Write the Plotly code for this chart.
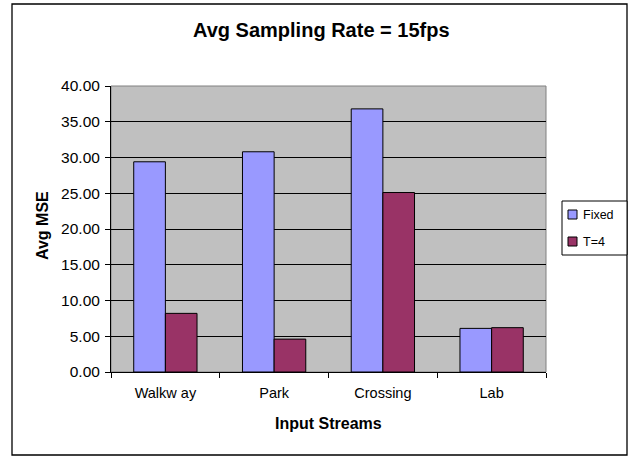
import plotly.graph_objects as go

categories = ["Walkw ay", "Park", "Crossing", "Lab"]
fixed_vals = [29.4, 30.8, 36.8, 6.1]
t4_vals = [8.2, 4.6, 25.1, 6.2]
series_names = ["Fixed", "T=4"]
y_ticks = [0, 5, 10, 15, 20, 25, 30, 35, 40]

W, H = 632, 457
L, R, T, B = 111, 546, 86, 372
PW, PH = R - L, B - T

def px(x):
    return (x - L) / PW

def py(y):
    return (B - y) / PH

FONT = "Arial, Liberation Sans, sans-serif"
C_FIXED = "#9999FF"
C_T4 = "#993366"

fig = go.Figure()
fig.add_trace(go.Bar(x=categories, y=fixed_vals, name=series_names[0],
                     marker=dict(color=C_FIXED, line=dict(color="black", width=1))))
fig.add_trace(go.Bar(x=categories, y=t4_vals, name=series_names[1],
                     marker=dict(color=C_T4, line=dict(color="black", width=1))))

shapes = [
    # plot area border (gray)
    dict(type="rect", xref="paper", yref="paper", x0=0, x1=1, y0=0, y1=1,
         line=dict(color="#808080", width=1), layer="below"),
    # outer chart border
    dict(type="rect", xref="paper", yref="paper", x0=px(12), x1=px(627),
         y0=py(455), y1=py(4), line=dict(color="black", width=1.3)),
    # legend box
    dict(type="rect", xref="paper", yref="paper", x0=px(562), x1=px(627),
         y0=py(255), y1=py(201), fillcolor="white", line=dict(color="black", width=1)),
    dict(type="rect", xref="paper", yref="paper", x0=px(568), x1=px(577),
         y0=py(219), y1=py(210), fillcolor=C_FIXED, line=dict(color="black", width=1)),
    dict(type="rect", xref="paper", yref="paper", x0=px(568), x1=px(577),
         y0=py(246), y1=py(237), fillcolor=C_T4, line=dict(color="black", width=1)),
]

annotations = [
    dict(text=series_names[0], xref="paper", yref="paper", x=px(581), y=py(214.5),
         xanchor="left", yanchor="middle", showarrow=False,
         font=dict(family=FONT, size=12.5, color="black")),
    dict(text=series_names[1], xref="paper", yref="paper", x=px(581), y=py(241.5),
         xanchor="left", yanchor="middle", showarrow=False,
         font=dict(family=FONT, size=12.5, color="black")),
    dict(text="<b>Avg MSE</b>", xref="paper", yref="paper", x=px(42), y=py(226),
         xanchor="center", yanchor="middle", textangle=-90, showarrow=False,
         font=dict(family=FONT, size=16, color="black")),
    dict(text="<b>Input Streams</b>", xref="paper", yref="paper", x=px(328), y=py(423),
         xanchor="center", yanchor="middle", showarrow=False,
         font=dict(family=FONT, size=16, color="black")),
    dict(text="<b>Avg Sampling Rate = 15fps</b>", xref="paper", yref="paper",
         x=px(321.5), y=py(30), xanchor="center", yanchor="middle", showarrow=False,
         font=dict(family=FONT, size=20, color="black")),
]

fig.update_layout(
    width=W, height=H,
    margin=dict(l=L, r=W - R, t=T, b=H - B, pad=0),
    paper_bgcolor="white",
    plot_bgcolor="#C0C0C0",
    barmode="group",
    bargap=0.418,
    bargroupgap=0,
    showlegend=False,
    shapes=shapes,
    annotations=annotations,
    font=dict(family=FONT, size=13, color="black"),
)

fig.update_xaxes(
    type="category",
    tickson="boundaries",
    ticks="outside", ticklen=5, tickcolor="black", tickwidth=1,
    showline=True, linecolor="black", linewidth=1,
    showgrid=False,
    tickfont=dict(family=FONT, size=14.5, color="black"),
    ticklabelstandoff=8,
)
fig.update_yaxes(
    range=[0, 40],
    tickvals=y_ticks,
    tickformat=".2f",
    ticks="outside", ticklen=5, tickcolor="black", tickwidth=1,
    showline=True, linecolor="black", linewidth=1,
    showgrid=True, gridcolor="black", gridwidth=1,
    zeroline=False,
    tickfont=dict(family=FONT, size=15.5, color="black"),
    ticklabelstandoff=2,
)

fig.write_html("out.html",
               config={"displayModeBar": False},
               post_script="document.body.style.margin='0';document.body.style.overflow='hidden';")
